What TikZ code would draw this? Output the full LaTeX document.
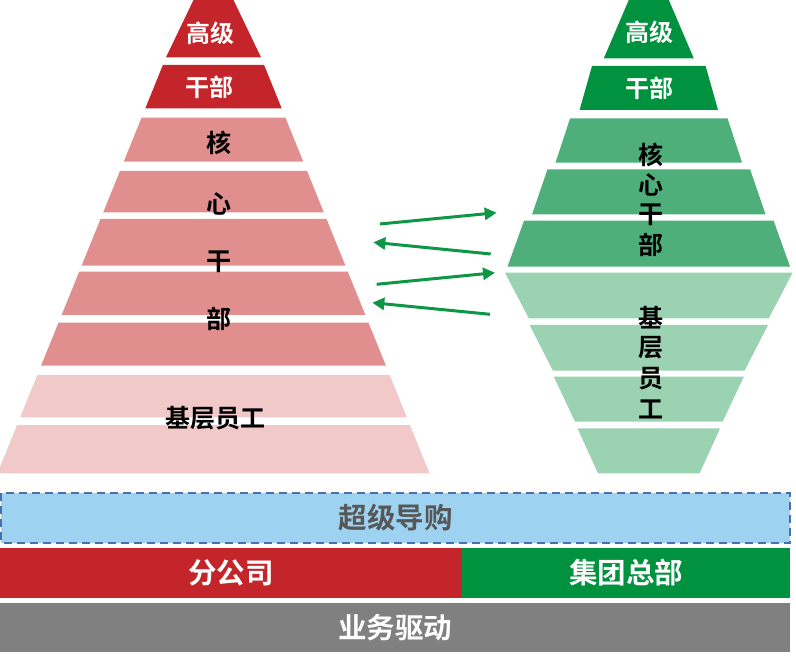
\documentclass[tikz,border=0pt]{standalone}
\usepackage{fontspec}
\newfontfamily\cjkb{Noto Sans CJK SC Bold}
\usetikzlibrary{arrows.meta}
\definecolor{dred}{HTML}{C3252A}
\definecolor{pinkb}{HTML}{E08F8E}
\definecolor{lpink}{HTML}{F2C9C9}
\definecolor{dgreen}{HTML}{00923F}
\definecolor{mgreen}{HTML}{4FAF7A}
\definecolor{lgreen}{HTML}{9BD3B2}
\definecolor{agreen}{HTML}{0E9645}
\definecolor{sblue}{HTML}{9DD3F0}
\definecolor{sborder}{HTML}{4A6FAF}
\definecolor{gbar}{HTML}{808080}
\definecolor{dtext}{HTML}{575757}
\newcommand{\mytrap}[6]{\fill[#6] ({#1-(#3)},#2) -- ({#1+(#3)},#2) -- ({#1+(#5)},#4) -- ({#1-(#5)},#4) -- cycle;}
\begin{document}
\begin{tikzpicture}[x=1pt,y=-1pt,
  wlabel/.style={font=\cjkb\fontsize{24}{28}\selectfont, text=white, inner sep=0pt},
  blabel/.style={font=\cjkb\fontsize{25}{30}\selectfont, text=black, inner sep=0pt},
  barlabel/.style={font=\cjkb\fontsize{28.5}{32}\selectfont, inner sep=0pt},
  flow/.style={draw=agreen, line width=3pt, -{Triangle[length=12pt,width=12pt]}}]
\useasboundingbox (0,0) rectangle (796,663);
% left pyramid
\def\lc{213.5}
\mytrap{\lc}{0}{20}{57.3}{0.405*(57.3+60)}{dred}
\mytrap{\lc}{65}{0.405*(65+60)}{108.3}{0.405*(108.3+60)}{dred}
\mytrap{\lc}{117.7}{0.405*(117.7+60)}{161.7}{0.405*(161.7+60)}{pinkb}
\mytrap{\lc}{171}{0.405*(171+60)}{212.3}{0.405*(212.3+60)}{pinkb}
\mytrap{\lc}{219}{0.405*(219+60)}{265.7}{0.405*(265.7+60)}{pinkb}
\mytrap{\lc}{271.7}{0.405*(271.7+60)}{315}{0.405*(315+60)}{pinkb}
\mytrap{\lc}{322.7}{0.405*(322.7+60)}{365.7}{0.405*(365.7+60)}{pinkb}
\mytrap{\lc}{375}{0.405*(375+60)}{417.3}{0.405*(417.3+60)}{lpink}
\mytrap{\lc}{425}{0.405*(425+60)}{473.3}{0.405*(473.3+60)}{lpink}
\node[wlabel] (lgj) at (210,33) {高级};
\node[wlabel] (lgb) at (209,87) {干部};
\node[blabel] (lh) at (219,143) {核};
\node[blabel] (lx) at (219,204) {心};
\node[blabel] (lg) at (219,261.7) {干};
\node[blabel] (lb) at (219,319) {部};
\node[blabel] (ljc) at (215,418) {基层员工};
% right diamond
\def\rc{648.8}
\mytrap{\rc}{0}{20}{58.3}{45}{dgreen}
\mytrap{\rc}{66}{56.8}{110}{69.2}{dgreen}
\mytrap{\rc}{118.3}{78.7}{162.7}{93.3}{mgreen}
\mytrap{\rc}{169.3}{101.3}{214.3}{116.7}{mgreen}
\mytrap{\rc}{220.7}{124.8}{266.7}{141.3}{mgreen}
\mytrap{\rc}{272.7}{143.8}{318.3}{120}{lgreen}
\mytrap{\rc}{325}{119.2}{370.7}{95.8}{lgreen}
\mytrap{\rc}{376.7}{95}{421.7}{73.8}{lgreen}
\mytrap{\rc}{428.3}{71.3}{473.3}{50.8}{lgreen}
\node[wlabel] (rgj) at (649,32.5) {高级};
\node[wlabel] (rgb) at (649,88) {干部};
\node[blabel] (rh) at (650.5,155) {核};
\node[blabel] (rx) at (650.5,185) {心};
\node[blabel] (rg) at (650.5,215) {干};
\node[blabel] (rb) at (650.5,245) {部};
\node[blabel] (rj) at (650.5,317.5) {基};
\node[blabel] (rc2) at (650.5,348) {层};
\node[blabel] (ry) at (650.5,379) {员};
\node[blabel] (rw) at (650.5,409) {工};
% arrows
\coordinate (a1s) at (380,224);   \coordinate (a1e) at (496.7,212.7);
\coordinate (a2s) at (490.7,254); \coordinate (a2e) at (373.3,242.3);
\coordinate (a3s) at (376.7,284.3); \coordinate (a3e) at (495,272.7);
\coordinate (a4s) at (490,314.3); \coordinate (a4e) at (372.3,302.7);
\draw[flow] (a1s) -- (a1e);
\draw[flow] (a2s) -- (a2e);
\draw[flow] (a3s) -- (a3e);
\draw[flow] (a4s) -- (a4e);
% bottom bars
\fill[sblue] (1,493.3) rectangle (790,542.7);
\draw[sborder, line width=2pt, dash pattern=on 8pt off 5pt] (1,493.3) rectangle (790,542.7);
\node[barlabel, text=dtext] (cj) at (395.5,518) {超级导购};
\fill[dred] (0,548.3) rectangle (461.7,597.7);
\fill[dgreen] (461.7,548.3) rectangle (790,597.7);
\node[barlabel, text=white] (fgs) at (231,573) {分公司};
\node[barlabel, text=white] (jt) at (626,573) {集团总部};
\fill[gbar] (0,603.3) rectangle (790,651.7);
\node[barlabel, text=white] (yw) at (395,627.5) {业务驱动};
\end{tikzpicture}
\end{document}
